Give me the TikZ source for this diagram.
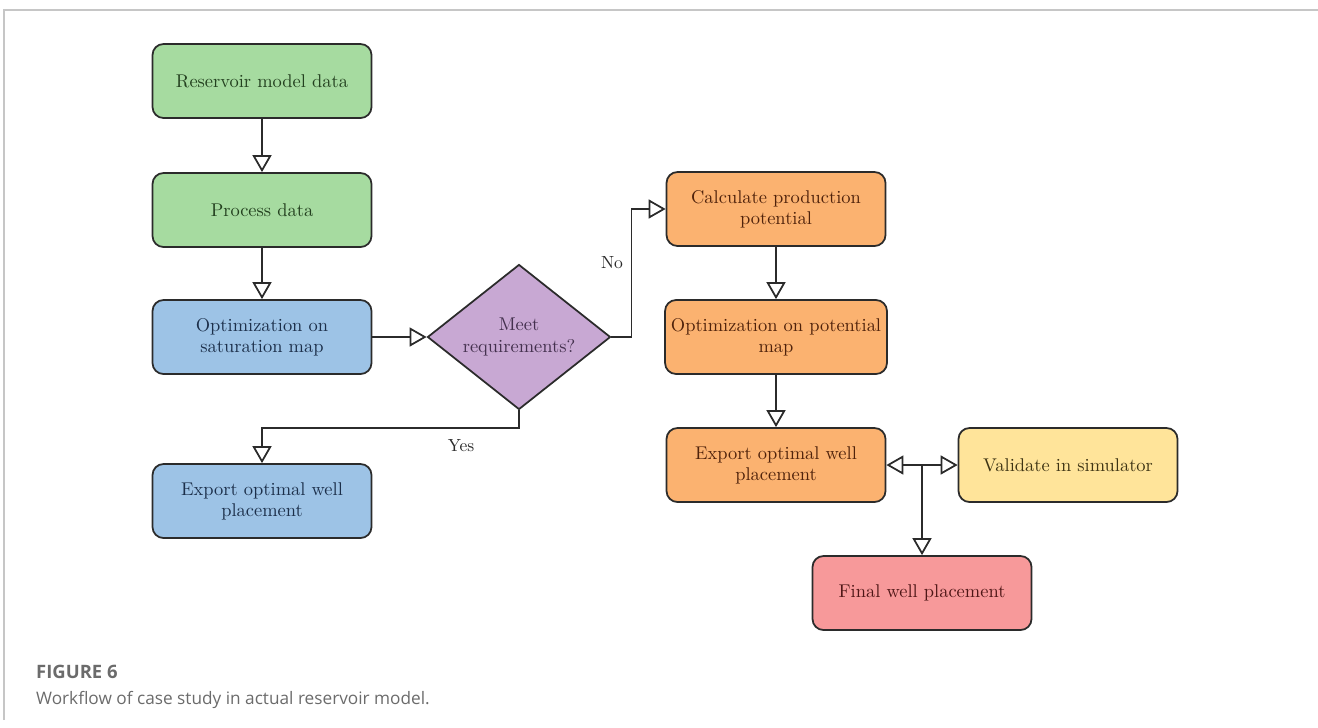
\documentclass[tikz,border=0pt]{standalone}
\usepackage{fontspec}
\usepackage{tikz}
\usetikzlibrary{arrows.meta,shapes.geometric,calc}
\newfontfamily\capfont{Open Sans}
\definecolor{grnfill}{HTML}{A6DBA0}
\definecolor{grntext}{HTML}{23401F}
\definecolor{blufill}{HTML}{9DC3E6}
\definecolor{blutext}{HTML}{1C2F4A}
\definecolor{purfill}{HTML}{C8A8D3}
\definecolor{purtext}{HTML}{43304D}
\definecolor{orgfill}{HTML}{FBB270}
\definecolor{orgtext}{HTML}{4F220B}
\definecolor{yelfill}{HTML}{FFE49A}
\definecolor{yeltext}{HTML}{3E3414}
\definecolor{redfill}{HTML}{F7999A}
\definecolor{redtext}{HTML}{4E1616}
\definecolor{edge}{HTML}{2B2B2B}
\definecolor{capgray}{HTML}{6B6B6B}
\tikzstyle{box} = [draw=edge, line width=1pt, rounded corners=0.22cm,
  minimum width=4.38cm, minimum height=1.48cm, align=center,
  font=\fontsize{10.5}{12}\selectfont]
\tikzstyle{decide} = [draw=edge, line width=1pt, diamond, aspect=1.26,
  inner sep=0pt, minimum width=3.66cm, minimum height=2.9cm, align=center,
  fill=purfill, text=purtext, font=\fontsize{10.5}{12}\selectfont]
\tikzstyle{flow} = [draw=edge, line width=1pt,
  -{Triangle[open, length=0.34cm, width=0.38cm]}]
\tikzstyle{lbl} = [font=\fontsize{10}{12}\selectfont, text=edge]

\begin{document}
\begin{tikzpicture}
    \useasboundingbox (0,0) rectangle (26.36,-14.54);% page size
    % frame of the figure
    \draw[gray!45, line width=0.6pt] (0.08,-14.4) -- (0.08,-0.2) -- (26.36,-0.2);
    % left column
    \node[box, fill=grnfill, text=grntext] (rmd) at (5.24,-1.62) {Reservoir model data};
    \node[box, fill=grnfill, text=grntext] (pd) at (5.24,-4.20) {Process data};
    \node[box, fill=blufill, text=blutext] (osm) at (5.24,-6.74)
        {Optimization on\\saturation map};
    \node[box, fill=blufill, text=blutext] (eb) at (5.24,-10.02)
        {Export optimal well\\placement};
    % decision
    \node[decide] (meet) at (10.38,-6.74) {Meet\\requirements?};
    % right column
    \node[box, fill=orgfill, text=orgtext] (cpp) at (15.52,-4.18)
        {Calculate production\\potential};
    \node[box, fill=orgfill, text=orgtext] (opm) at (15.52,-6.74)
        {Optimization on potential\\map};
    \node[box, fill=orgfill, text=orgtext] (eo) at (15.52,-9.30)
        {Export optimal well\\placement};
    \node[box, fill=yelfill, text=yeltext] (vis) at (21.36,-9.30) {Validate in simulator};
    \node[box, fill=redfill, text=redtext] (fwp) at (18.44,-11.86) {Final well placement};
    % branch labels
    \node[lbl] (no) at (12.24,-5.26) {No};
    \node[lbl] (yes) at (9.22,-8.92) {Yes};
    % connectors
    \coordinate (yesbend) at (5.24,-8.56);% bend above export box
    \coordinate (hub) at (18.44,-9.30);% split point
    \draw[flow] (rmd) -- (pd);
    \draw[flow] (pd) -- (osm);
    \draw[flow] (osm) -- (meet);
    \draw[flow] (meet.east) -- ++(0.4,0) |- (cpp.west);% no branch
    \draw[flow] (meet.south) |- (yesbend) -- (eb.north);% yes branch
    \draw[flow] (cpp) -- (opm);
    \draw[flow] (opm) -- (eo);
    \draw[flow] (hub) -- (eo.east);
    \draw[flow] (hub) -- (vis.west);
    \draw[flow] (hub) -- (fwp.north);
    % caption
    \node[anchor=west, text=capgray, font=\capfont\bfseries\fontsize{10.5}{12}\selectfont]
        (figno) at (0.6,-13.44) {FIGURE 6};
    \node[anchor=west, text=capgray, font=\capfont\fontsize{9.8}{12}\selectfont]
        (captxt) at (0.6,-14.0) {Workflow of case study in actual reservoir model.};
\end{tikzpicture}
\end{document}
